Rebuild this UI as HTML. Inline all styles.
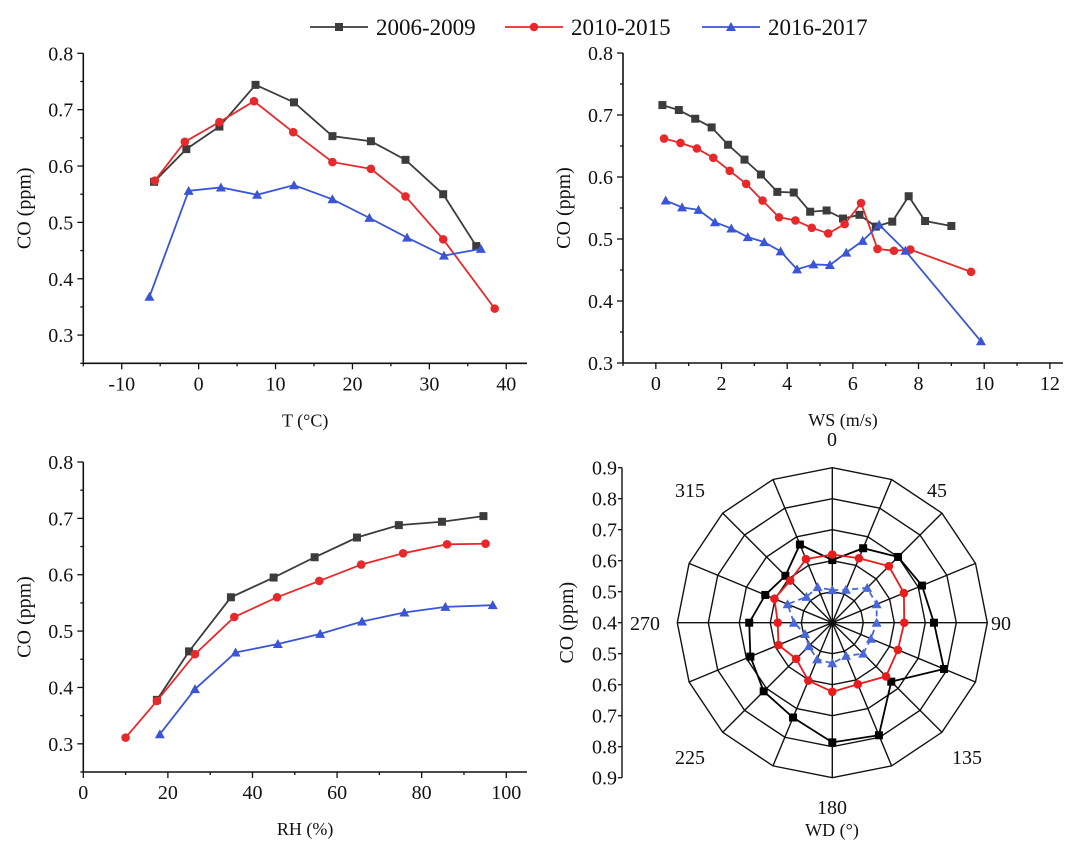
<!DOCTYPE html>
<html><head><meta charset="utf-8"><style>
body{margin:0;background:#fff}
svg{display:block;font-family:"Liberation Serif",serif}
</style></head><body>
<svg id="c" width="1082" height="858" viewBox="0 0 1082 858"></svg>
<script>
// ---- data ----
const seriesNames=["2006-2009","2010-2015","2016-2017"];
const tBlackX=[-5.8,-1.6,2.7,7.4,12.4,17.4,22.4,26.9,31.8,36.1];
const tBlackY=[0.572,0.630,0.670,0.744,0.713,0.653,0.644,0.611,0.550,0.458];
const tRedX=[-5.7,-1.8,2.7,7.2,12.3,17.4,22.4,26.9,31.8,38.5];
const tRedY=[0.574,0.643,0.678,0.715,0.660,0.607,0.595,0.546,0.470,0.347];
const tBlueX=[-6.4,-1.3,2.9,7.6,12.4,17.4,22.2,27.1,31.9,36.7];
const tBlueY=[0.368,0.556,0.562,0.549,0.566,0.541,0.508,0.473,0.441,0.453];
const wsBlackX=[0.2,0.7,1.2,1.7,2.2,2.7,3.2,3.7,4.2,4.7,5.2,5.7,6.2,6.7,7.2,7.7,8.2,9.0];
const wsBlackY=[0.716,0.708,0.694,0.680,0.652,0.628,0.604,0.576,0.575,0.544,0.546,0.533,0.539,0.520,0.528,0.569,0.529,0.521];
const wsRedX=[0.25,0.75,1.25,1.75,2.25,2.75,3.25,3.75,4.25,4.75,5.25,5.75,6.25,6.75,7.25,7.75,9.6];
const wsRedY=[0.662,0.655,0.646,0.631,0.610,0.589,0.562,0.535,0.530,0.518,0.509,0.524,0.558,0.484,0.481,0.483,0.447];
const wsBlueX=[0.3,0.8,1.3,1.8,2.3,2.8,3.3,3.8,4.3,4.8,5.3,5.8,6.3,6.8,7.6,9.9];
const wsBlueY=[0.562,0.551,0.547,0.527,0.517,0.503,0.495,0.480,0.451,0.459,0.458,0.478,0.497,0.523,0.481,0.335];
const rhBlackX=[17.4,25.0,34.9,45.0,54.7,64.7,74.6,84.8,94.6];
const rhBlackY=[0.378,0.464,0.560,0.595,0.631,0.666,0.688,0.694,0.704];
const rhRedX=[10.0,17.4,26.4,35.7,45.8,55.8,65.7,75.6,86.0,95.1];
const rhRedY=[0.311,0.376,0.459,0.525,0.560,0.589,0.618,0.638,0.654,0.655];
const rhBlueX=[18.1,26.4,36.0,46.0,56.0,65.9,75.9,85.6,96.8];
const rhBlueY=[0.317,0.397,0.462,0.477,0.495,0.517,0.533,0.543,0.546];
const wdAngles=[0,22.5,45,67.5,90,112.5,135,157.5,180,202.5,225,247.5,270,292.5,315,337.5];
const wdBlack=[0.602,0.660,0.700,0.713,0.728,0.790,0.669,0.793,0.786,0.731,0.713,0.686,0.668,0.634,0.614,0.673];
const wdRed=[0.620,0.625,0.658,0.650,0.632,0.629,0.645,0.615,0.623,0.602,0.565,0.588,0.576,0.602,0.592,0.622];
const wdBlue=[0.505,0.515,0.559,0.555,0.543,0.535,0.541,0.516,0.531,0.528,0.507,0.495,0.524,0.556,0.518,0.524];
const coTicks=[0.3,0.4,0.5,0.6,0.7,0.8];
const tTicks=[-10,0,10,20,30,40];
const wsTicks=[0,2,4,6,8,10,12];
const rhTicks=[0,20,40,60,80,100];
const polarTicks=[0.9,0.8,0.7,0.6,0.5,0.4,0.5,0.6,0.7,0.8,0.9];
const dirLabels=["0","45","90","135","180","225","270","315"];

const COL=["#3c3c3c","#e8292b","#3b55d6"];
const svg=document.getElementById('c');
const NS="http://www.w3.org/2000/svg";
function el(tag,attrs,parent){const e=document.createElementNS(NS,tag);for(const k in attrs)e.setAttribute(k,attrs[k]);(parent||svg).appendChild(e);return e;}
function txt(s,x,y,size,anchor,parent,extra){const t=el('text',Object.assign({x:x,y:y,'font-size':size,'text-anchor':anchor||'middle',fill:'#111'},extra||{}),parent);t.textContent=s;return t;}
function marker(kind,x,y,color,g){
  let m;
  if(kind===0){m=el('rect',{x:x-4,y:y-4,width:8,height:8,fill:color},g);}
  else if(kind===1){m=el('circle',{cx:x,cy:y,r:4.3,fill:color},g);}
  else {m=el('polygon',{points:`${x},${y-5} ${x-5},${y+4} ${x+5},${y+4}`,fill:color},g);}
  
  
}
function panel(name,px0,px1,py0,py1,xmin,xmax,ymin,ymax,xt,xminor,xlabel,data){
  const g=el('g',{});
  
  
  const sx=v=>px0+(v-xmin)/(xmax-xmin)*(px1-px0);
  const sy=v=>py1-(v-ymin)/(ymax-ymin)*(py1-py0);
  const ax=el('path',{d:`M${px0},${py0} V${py1} H${px1}`,stroke:'#111','stroke-width':1.6,fill:'none'},g);
  
  
  for(let v=ymin;v<=ymax+1e-9;v+=0.05){const y=sy(v);const major=Math.abs(Math.round(v*10)-v*10)<1e-6;
    el('line',{x1:px0,x2:px0-(major?6:3),y1:y,y2:y,stroke:'#111','stroke-width':1.3},g);}
  coTicks.forEach(v=>{const t=txt(v.toFixed(1),px0-10,sy(v)+7,20,'end',g);
    
    });
  const step=xt[1]-xt[0];
  for(let v=xt[0]-step;v<=xmax;v+=step/2){if(v<xmin-1e-9)continue;const x=sx(v);const major=xt.some(t=>Math.abs(t-v)<1e-9);
    el('line',{x1:x,x2:x,y1:py1,y2:py1+(major?6:3),stroke:'#111','stroke-width':1.3},g);}
  xt.forEach(v=>{const t=txt(String(v),sx(v),py1+27,20,'middle',g);
    
    });
  const yt=txt('CO (ppm)',0,0,20,'middle',g,{transform:`translate(${px0-53},${(py0+py1)/2}) rotate(-90)`});
  
  
  const xl=txt(xlabel,(px0+px1)/2,py1+63,18,'middle',g);
  
  
  data.forEach((d,i)=>{
    const sg=el('g',{},g);
    
    
    const pts=d[0].map((x,j)=>sx(x)+','+sy(d[1][j])).join(' ');
    el('polyline',{points:pts,fill:'none',stroke:COL[i],'stroke-width':1.8},sg);
    d[0].forEach((x,j)=>marker(i,sx(x),sy(d[1][j]),COL[i],sg));
  });
}
panel('temperature-panel',83.3,527,53.3,363.3,-15,42.7,0.25,0.8,tTicks,true,'T (°C)',[[tBlackX,tBlackY],[tRedX,tRedY],[tBlueX,tBlueY]]);
panel('wind-speed-panel',623,1063,53,363,-1.0,12.4,0.3,0.8,wsTicks,true,'WS (m/s)',[[wsBlackX,wsBlackY],[wsRedX,wsRedY],[wsBlueX,wsBlueY]]);
panel('humidity-panel',83.3,527,462,772,0,104.9,0.25,0.8,rhTicks,true,'RH (%)',[[rhBlackX,rhBlackY],[rhRedX,rhRedY],[rhBlueX,rhBlueY]]);

// ---- polar ----
(function(){
  const cx=832.3,cy=622.7,R=155,rmin=0.4,rmax=0.9;
  const g=el('g',{});
  
  
  const rr=v=>(v-rmin)/(rmax-rmin)*R;
  const pt=(a,r)=>[cx+r*Math.sin(a*Math.PI/180),cy-r*Math.cos(a*Math.PI/180)];
  for(let k=1;k<=5;k++){const r=R*k/5;
    const p=wdAngles.map(a=>pt(a,r).join(',')).join(' ');
    el('polygon',{points:p,fill:'none',stroke:'#111','stroke-width':1.4},g);}
  wdAngles.forEach(a=>{const [x,y]=pt(a,R);el('line',{x1:cx,y1:cy,x2:x,y2:y,stroke:'#111','stroke-width':1.4},g);});
  // radial axis on left
  const axx=622;
  el('line',{x1:axx,x2:axx,y1:cy-R,y2:cy+R,stroke:'#111','stroke-width':1.4},g);
  polarTicks.forEach((v,i)=>{const y=cy-R+i*R/5;
    el('line',{x1:axx,x2:axx-4,y1:y,y2:y,stroke:'#111','stroke-width':1.3},g);
    const t=txt(v.toFixed(1),axx-5,y+7,20,'end',g);
    
    });
  const yt=txt('CO (ppm)',0,0,20,'middle',g,{transform:`translate(573,${cy}) rotate(-90)`});
  
  
  const dpos=[[832,446],[937,497],[1001,630],[967,764],[832,814],[690,764],[645,630],[690,497]];
  dirLabels.forEach((s,i)=>{const t=txt(s,dpos[i][0],dpos[i][1],20,'middle',g);
    
    });
  const xl=txt('WD (°)',832,836,18,'middle',g);
  
  
  const pcol=["#000","#e81c1c","#4a67d8"];
  [wdBlack,wdRed,wdBlue].forEach((vals,i)=>{
    const sg=el('g',{},g);
    
    
    const ps=wdAngles.map((a,j)=>pt(a,rr(vals[j])));
    const attrs={points:ps.map(p=>p.join(',')).join(' '),fill:'none',stroke:pcol[i],'stroke-width':1.8};
    if(i===2)attrs['stroke-dasharray']='6,4';
    el('polygon',attrs,sg);
    ps.forEach(p=>marker(i,p[0],p[1],pcol[i],sg));
  });
})();

// ---- legend ----
(function(){
  const g=el('g',{});
  
  
  const xs=[310,505,702];
  seriesNames.forEach((s,i)=>{
    const lg=el('g',{},g);
    
    
    el('line',{x1:xs[i],x2:xs[i]+58,y1:27,y2:27,stroke:COL[i],'stroke-width':1.8},lg);
    marker(i,xs[i]+29,27,COL[i],lg);
    txt(s,xs[i]+66,35,23,'start',lg);
  });
})();
</script>
</body></html>
